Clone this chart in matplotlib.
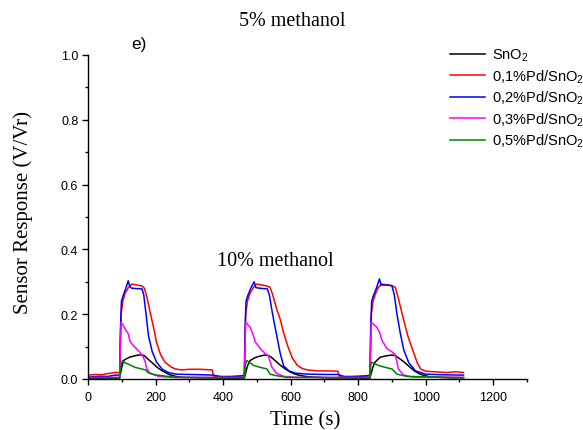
import matplotlib
matplotlib.use("Agg")
import matplotlib.pyplot as plt
from matplotlib.ticker import MultipleLocator, FormatStrFormatter

# Sensor response of Pd-doped SnO2 films to three methanol pulses
sno2_t = [0, 40, 93, 96, 100, 105, 115, 125, 140, 150, 160, 167, 175, 190, 205, 220, 240, 260, 280, 320, 400, 463,
          466, 472, 480, 495, 510, 524, 535, 542, 555, 569, 583, 598, 613, 628, 650, 700, 780, 835,
          838, 843, 850, 865, 880, 900, 910, 924, 940, 954, 968, 983, 1010, 1060, 1112]
sno2_v = [0.003, 0.003, 0.003, 0.015, 0.035, 0.057, 0.063, 0.068, 0.072, 0.074, 0.074, 0.072, 0.064, 0.05, 0.036,
          0.025, 0.014, 0.008, 0.005, 0.004, 0.003, 0.003,
          0.015, 0.04, 0.057, 0.066, 0.071, 0.074, 0.072, 0.068, 0.056, 0.043, 0.032, 0.022, 0.015, 0.011, 0.007,
          0.004, 0.003, 0.003,
          0.015, 0.035, 0.052, 0.067, 0.071, 0.074, 0.072, 0.062, 0.049, 0.036, 0.024, 0.015, 0.007, 0.004, 0.004]

pd01_t = [0, 20, 40, 60, 80, 94, 96, 98, 103, 110, 120, 130, 145, 160, 167, 175, 184, 195, 203, 215, 228, 245, 258,
          278, 300, 330, 368, 372, 400, 430, 455, 463,
          465, 467, 472, 480, 490, 500, 515, 530, 539, 547, 559, 569, 580, 592, 605, 620, 635, 650, 680, 710, 740,
          744, 780, 820, 835,
          837, 839, 844, 852, 860, 870, 885, 900, 910, 920, 934, 948, 964, 975, 985, 1000, 1030, 1060, 1090, 1112]
pd01_v = [0.012, 0.014, 0.013, 0.017, 0.02, 0.02, 0.12, 0.2, 0.24, 0.265, 0.283, 0.293, 0.29, 0.287, 0.28, 0.25,
          0.206, 0.155, 0.113, 0.075, 0.052, 0.038, 0.031, 0.028, 0.03, 0.03, 0.028, 0.008, 0.008, 0.008, 0.01, 0.012,
          0.12, 0.2, 0.24, 0.265, 0.283, 0.293, 0.29, 0.287, 0.283, 0.26, 0.215, 0.185, 0.14, 0.1, 0.065, 0.042,
          0.032, 0.028, 0.025, 0.025, 0.024, 0.008, 0.008, 0.01, 0.012,
          0.12, 0.2, 0.24, 0.265, 0.283, 0.293, 0.291, 0.288, 0.283, 0.245, 0.185, 0.13, 0.082, 0.05, 0.031, 0.024,
          0.022, 0.02, 0.022, 0.02]

pd02_t = [0, 30, 60, 80, 94, 96, 99, 105, 112, 119, 124, 130, 145, 160, 165, 172, 179, 190, 203, 220, 238, 260, 300,
          340, 370, 400, 440, 463,
          465, 468, 474, 482, 492, 497, 510, 531, 537, 545, 552, 559, 569, 579, 595, 615, 650, 700, 740, 760, 800, 835,
          837, 840, 846, 854, 863, 868, 885, 900, 907, 915, 925, 935, 950, 970, 1000, 1050, 1112]
pd02_v = [0.006, 0.008, 0.008, 0.012, 0.012, 0.15, 0.24, 0.26, 0.28, 0.303, 0.285, 0.28, 0.279, 0.278, 0.26, 0.2,
          0.134, 0.085, 0.052, 0.03, 0.02, 0.015, 0.014, 0.013, 0.012, 0.006, 0.008, 0.01,
          0.15, 0.24, 0.26, 0.28, 0.30, 0.282, 0.28, 0.278, 0.26, 0.21, 0.17, 0.134, 0.08, 0.041, 0.025, 0.018,
          0.015, 0.014, 0.014, 0.007, 0.007, 0.01,
          0.15, 0.24, 0.26, 0.28, 0.309, 0.29, 0.29, 0.288, 0.26, 0.2, 0.14, 0.09, 0.05, 0.025, 0.015, 0.013, 0.012]

pd03_t = [0, 94, 96, 98, 105, 110, 119, 124, 130, 139, 154, 164, 170, 174, 182, 189, 210, 250, 463,
          465, 467, 480, 488, 495, 510, 524, 534, 544, 559, 580, 620, 835,
          837, 839, 855, 863, 870, 885, 900, 910, 919, 934, 960, 1112]
pd03_v = [0.005, 0.005, 0.1, 0.175, 0.165, 0.154, 0.14, 0.118, 0.108, 0.098, 0.082, 0.067, 0.05, 0.031, 0.02, 0.015,
          0.008, 0.005, 0.005,
          0.1, 0.175, 0.16, 0.14, 0.115, 0.094, 0.079, 0.072, 0.038, 0.017, 0.008, 0.005, 0.005,
          0.1, 0.175, 0.16, 0.145, 0.12, 0.094, 0.084, 0.075, 0.031, 0.013, 0.006, 0.005]

pd05_t = [0, 94, 97, 102, 110, 119, 139, 159, 170, 179, 199, 228, 260, 463,
          465, 470, 480, 490, 510, 530, 539, 559, 590, 835,
          837, 840, 860, 880, 900, 915, 944, 1112]
pd05_v = [0.004, 0.004, 0.04, 0.057, 0.05, 0.046, 0.036, 0.031, 0.028, 0.019, 0.013, 0.009, 0.005, 0.004,
          0.04, 0.057, 0.05, 0.042, 0.036, 0.031, 0.015, 0.01, 0.005, 0.004,
          0.04, 0.052, 0.042, 0.036, 0.031, 0.015, 0.008, 0.004]

labels = ["SnO$_2$", "0,1%Pd/SnO$_2$", "0,2%Pd/SnO$_2$", "0,3%Pd/SnO$_2$", "0,5%Pd/SnO$_2$"]
colors = ["#000000", "#ff0000", "#0000ff", "#ff00ff", "#008000"]
series = [(sno2_t, sno2_v), (pd01_t, pd01_v), (pd02_t, pd02_v), (pd03_t, pd03_v), (pd05_t, pd05_v)]

W, H = 583, 431
fig = plt.figure(figsize=(W / 100, H / 100), dpi=100)
ax = fig.add_axes([88 / W, 1 - 380 / H, (527 - 88) / W, (380 - 56) / H])

sans = "Liberation Sans"
serif = "Liberation Serif"
plt.rcParams["mathtext.fontset"] = "custom"
plt.rcParams["mathtext.rm"] = sans
plt.rcParams["mathtext.it"] = sans

for (t, v), lab, c in zip(series, labels, colors):
    ax.plot(t, v, color=c, lw=1.1, label=lab)

ax.set_xlim(0, 1300)
ax.set_ylim(0, 1.0)
ax.xaxis.set_major_locator(MultipleLocator(200))
ax.xaxis.set_minor_locator(MultipleLocator(100))
ax.yaxis.set_major_locator(MultipleLocator(0.2))
ax.yaxis.set_minor_locator(MultipleLocator(0.1))
ax.yaxis.set_major_formatter(FormatStrFormatter("%.1f"))
for s in ("top", "right"):
    ax.spines[s].set_visible(False)
for s in ("left", "bottom"):
    ax.spines[s].set_linewidth(1.0)
ax.tick_params(which="major", direction="out", length=4, width=1.0, labelsize=9)
ax.tick_params(axis="x", which="major", pad=5)
ax.tick_params(axis="y", which="major", pad=3)
ax.tick_params(which="minor", direction="out", length=2.5, width=1.0)
for lbl in ax.get_xticklabels() + ax.get_yticklabels():
    lbl.set_fontfamily(sans)

ax.set_xlabel("Time (s)", fontfamily=serif, fontsize=15)
ax.xaxis.set_label_coords(0.495, -(411 - 380) / 324)
ax.set_ylabel("Sensor Response (V/Vr)", fontfamily=serif, fontsize=15, va="center")
ax.yaxis.set_label_coords(-(88 - 23) / 439, (380 - 213) / 324)

fig.text(292 / W, 1 - 22 / H, "5% methanol", fontfamily=serif, fontsize=14.5, ha="center", va="center")
fig.text(275 / W, 1 - 261 / H, "10% methanol", fontfamily=serif, fontsize=14.5, ha="center", va="center")
fig.text(139 / W, 1 - 45 / H, "e)", fontfamily=sans, fontsize=12.5, ha="center", va="center")

leg = fig.legend(loc="upper left", bbox_to_anchor=(450 / W, 1 - 48 / H), frameon=False,
                 prop={"family": sans, "size": 10.5}, handlelength=2.4, handletextpad=0.45,
                 labelspacing=0.28, borderpad=0, borderaxespad=0)

fig.savefig("out.png", dpi=100)
